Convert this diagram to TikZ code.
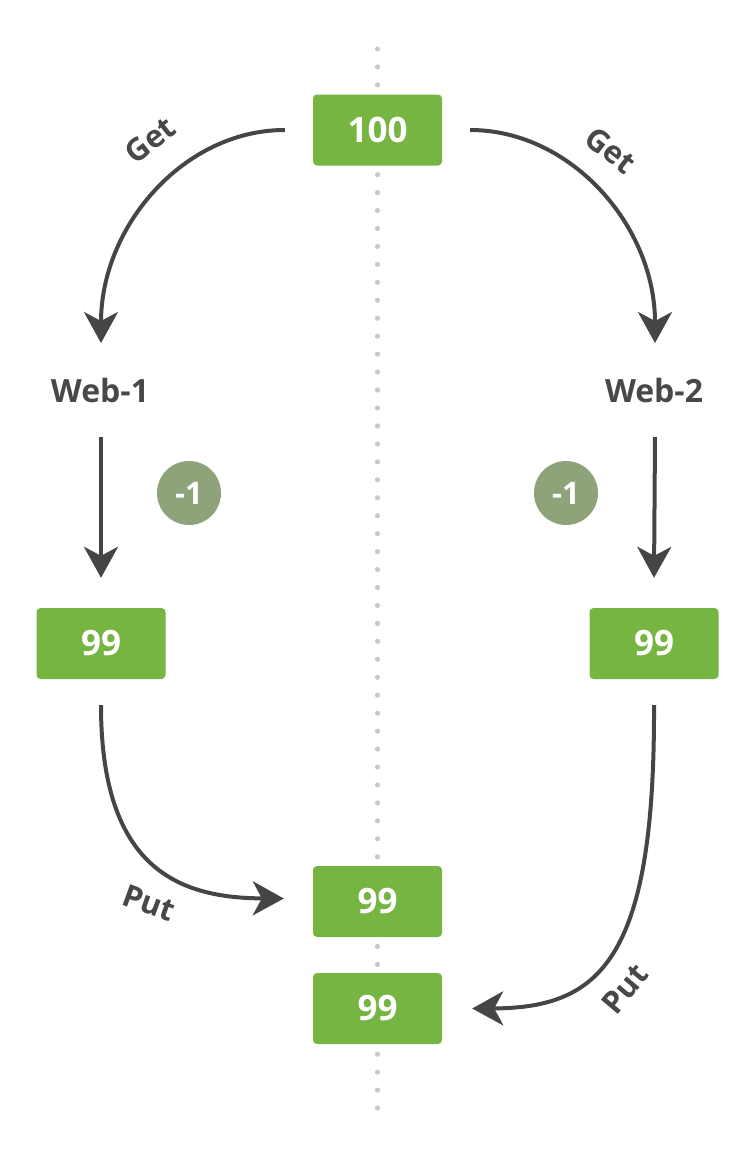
\documentclass[tikz,border=0pt]{standalone}
\usepackage{fontspec}
\setmainfont{Open Sans}
\usetikzlibrary{arrows.meta}
\definecolor{boxgreen}{HTML}{77B543}
\definecolor{arrowgray}{HTML}{444544}
\definecolor{textgray}{HTML}{484848}
\definecolor{circgreen}{HTML}{8FA37B}
\definecolor{dotgray}{HTML}{C8C8C8}
\begin{document}
\begin{tikzpicture}[x=1pt,y=-1pt,
  box/.style={fill=boxgreen, rounded corners=4pt, minimum width=129pt, minimum height=71pt, inner sep=0pt, text=white, font=\fontsize{35}{40}\selectfont\bfseries},
  lbl/.style={text=textgray, inner sep=0pt, font=\fontsize{32}{36}\selectfont\bfseries},
  elbl/.style={text=textgray, inner sep=0pt, font=\fontsize{31}{36}\selectfont\bfseries},
  circ/.style={circle, fill=circgreen, minimum size=64pt, inner sep=0pt, text=white, font=\fontsize{31}{36}\selectfont\bfseries},
  conn/.style={line width=4pt, draw=arrowgray, -{Stealth[length=31pt,width=34pt,inset=9pt]}}]
\useasboundingbox (0,0) rectangle (750,1167);
% dotted centre line
\foreach \i in {0,...,59} {
  \fill[dotgray] (377.5,{49+17.95*\i}) circle (2.6pt);
}
% nodes
\node[box] (top) at (377.5,130) {100};
\node[lbl] (w1) at (100,390) {Web-1};
\node[lbl] (w2) at (654,390) {Web-2};
\node[circ] (m1) at (189,493) {-1};
\node[circ] (m2) at (566,493) {-1};
\node[box] (l99) at (101,643.5) {99};
\node[box] (r99) at (654,643.5) {99};
\node[box] (c1) at (377.5,901.5) {99};
\node[box] (c2) at (377.5,1008.5) {99};
% connectors
\draw[conn] ([xshift=-28pt]top.west) .. controls (184,130) and (101,226) .. ([xshift=1pt,yshift=47pt]w1.center);
\draw[conn] ([xshift=28pt]top.east) .. controls (571,130) and (655,226) .. ([xshift=1pt,yshift=47pt]w2.center);
\draw[conn] ([xshift=1pt,yshift=-47pt]w1.center) -- ([yshift=30pt]l99.north);
\draw[conn] ([xshift=1pt,yshift=-47pt]w2.center) -- ([yshift=30pt]r99.north);
\draw[conn] ([yshift=-26pt]l99.south) .. controls (101,870) and (180,898) .. ([xshift=-29pt,yshift=3pt]c1.west);
\draw[conn] ([yshift=-26pt]r99.south) .. controls (655,960) and (600,1008) .. ([xshift=30pt]c2.east);
% labels
\node[elbl, rotate=38] (g1) at (150,140) {Get};
\node[elbl, rotate=-38] (g2) at (611,150) {Get};
\node[elbl, rotate=-20] (p1) at (149,903) {Put};
\node[elbl, rotate=50] (p2) at (625,989) {Put};
\end{tikzpicture}
\end{document}
